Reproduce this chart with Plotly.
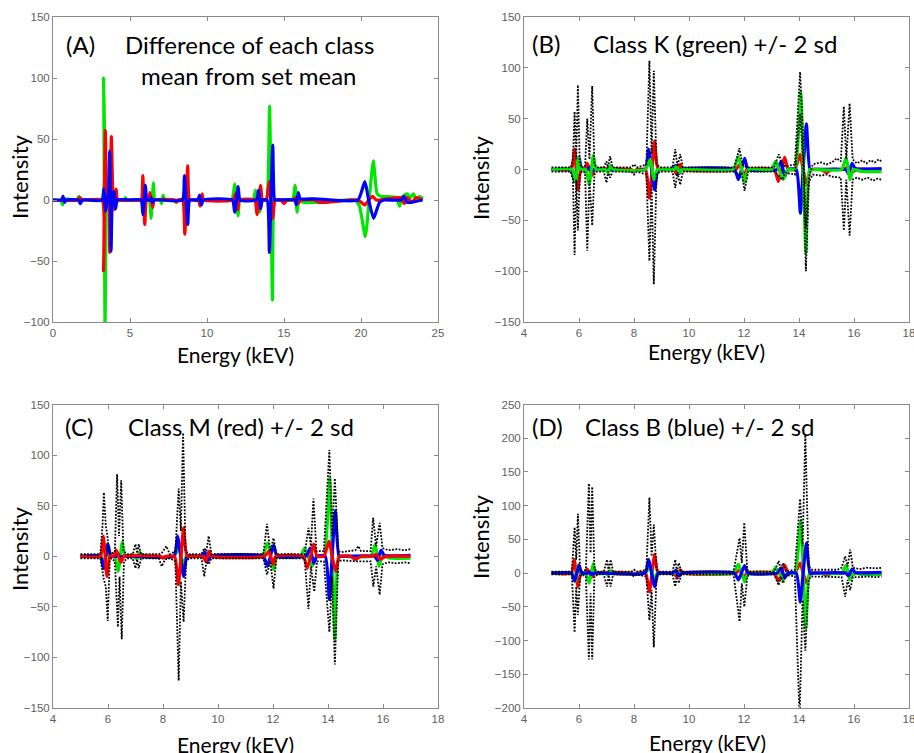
import plotly.graph_objects as go

W, H = 914, 753

# ---------------- class mean differences (shared by all panels) ----------------
green_x = [0.0, 0.5, 0.62, 0.72, 1.55, 1.68, 1.8, 1.95, 3.15, 3.28, 3.38, 3.48, 3.58, 3.7, 3.82, 3.95, 4.1, 4.25,
           4.6, 4.7, 4.8, 5.0, 5.75, 5.88, 5.97, 6.06, 6.25, 6.37, 6.52, 6.62, 6.95, 7.05, 7.15, 7.25, 8.4, 8.6,
           8.72, 8.85, 9.45, 9.55, 9.65, 9.75, 11.6, 11.8, 12.02, 12.15, 13.0, 13.15, 13.42, 13.58, 13.85, 14.06,
           14.16, 14.25, 14.38, 14.5, 15.55, 15.72, 15.85, 15.98, 16.3, 17.0, 17.3, 19.6, 19.9, 20.28, 20.55, 20.8,
           21.05, 21.3, 22.3, 22.5, 22.7, 23.0, 23.2, 23.4, 23.6, 23.8, 24.0]
green_y = [0, 0, -4, 1, 0, 3, -2, 0, 0, 100, -104, 5, -5, 6, -4, 3, -3, 0,
           0, 2, 0, 0, 0, -12, 12, 0, 0, -15, 14, 0, 0, -3, 4, 0, 0, 10,
           -10, 0, 0, 3, -3, 0, 0, 13, -13, 0, 0, 8, -10, 0, 0, 77,
           0, -82, 0, 0, 0, 12, -10, 0, -2, -2, -2, 0, -5, -30, 3, 32,
           5, 3, 2, -5, 3, 5, 2, 5, 0, 3, 1]

red_x = [0.0, 1.6, 1.75, 1.9, 3.18, 3.28, 3.4, 3.52, 3.6, 3.68, 3.79, 3.9, 4.0, 4.1, 4.2, 5.0, 5.72, 5.83, 5.96,
         6.07, 6.2, 6.3, 6.47, 6.58, 7.9, 8.0, 8.1, 8.42, 8.56, 8.75, 8.88, 9.45, 9.55, 9.68, 9.78, 11.7, 11.85,
         12.0, 12.1, 13.1, 13.25, 13.48, 13.6, 13.85, 14.04, 14.15, 14.28, 14.42, 14.8, 15.0, 15.2, 15.6, 15.75,
         15.9, 16.1, 17.0, 17.3, 19.8, 20.25, 20.5, 20.75, 21.0, 22.6, 22.8, 23.0, 23.3, 23.6, 24.0]
red_y = [0, 0, 2, 0, 0, -58, 57, 0, 0, -43, 52, 0, -8, 9, 0, 0, 0, 20, -20,
         0, 0, 6, -6, 0, 0, -2, 0, 0, -28, 28, 0, 0, -5, 5, 0, 0, 5,
         -8, 0, 0, -12, 12, 0, 0, 15, 0, -15, 0, 0, -3, 0, 0, 2,
         -3, 0, 0, -2, 0, -4, 0, 3, 0, 2, -3, 2, -2, 2, 0]

blue_x = [0.0, 0.55, 0.65, 0.75, 0.85, 1.65, 1.77, 1.9, 3.2, 3.3, 3.42, 3.52, 3.6, 3.68, 3.77, 3.86, 3.97, 4.07,
          4.17, 5.0, 5.72, 5.84, 6.0, 6.1, 6.3, 6.38, 6.45, 6.55, 8.4, 8.53, 8.75, 8.88, 9.4, 9.52, 9.64, 9.74,
          11.65, 11.8, 12.02, 12.15, 13.2, 13.35, 13.48, 13.6, 13.9, 14.05, 14.15, 14.27, 14.4, 14.55, 15.7,
          15.8, 15.93, 16.05, 17.0, 19.8, 20.25, 20.5, 20.82, 21.2, 21.5, 22.6, 22.8, 23.0, 24.0]
blue_y = [0, 0, 3, -2, 0, 0, -3, 0, 0, 9, -9, 0, 5, 40, -42, 3, 7, -7,
          0, 0, 0, -12, 12, 0, 0, 2, -2, 0, 0, 20, -20, 0, 0, 4, -4, 0,
          0, -10, 11, 0, 0, 8, -7, 0, 0, -43, 0, 45, 0, 0, 0,
          -4, 6, 1, 1, 0, 15, 0, -15, -2, 0, 0, 3, -2, 0]

# ---------------- +/- 2 sd lines ----------------
kU_x = [5.0, 5.7, 5.78, 5.84, 5.9, 5.96, 6.03, 6.1, 6.22, 6.3, 6.38, 6.48, 6.56, 6.65, 6.9, 7.0, 7.05, 7.13, 7.22,
        7.9, 8.0, 8.1, 8.45, 8.56, 8.64, 8.72, 8.82, 8.95, 9.4, 9.5, 9.58, 9.68, 9.78, 11.65, 11.83, 11.95, 12.05,
        12.15, 13.1, 13.26, 13.4, 13.5, 13.85, 14.04, 14.15, 14.25, 14.36, 14.5, 14.8, 15.0, 15.2, 15.37, 15.52,
        15.63, 15.72, 15.84, 15.95, 16.1, 16.3, 16.45, 16.6, 16.75, 16.9, 17.0]
kU_y = [2, 2, 10, 57, 10, 83, 5, 2, 3, 50, 10, 82, 5, 2, 2, 8, 2, 13, 2,
        2, 5, 2, 5, 107, 15, 97, 5, 2, 2, 20, 3, 15, 2, 2, 21, 5, 3,
        2, 2, 15, 5, 3, 5, 96, 30, -58, -8, 5, 7, 5, 7, 11, 8,
        62, 10, 65, 10, 6, 9, 6, 9, 7, 10, 8]
kL_x = [5.0, 5.7, 5.78, 5.84, 5.9, 5.96, 6.03, 6.1, 6.22, 6.3, 6.38, 6.48, 6.56, 6.65, 6.9, 7.0, 7.06, 7.13, 7.22,
        7.9, 8.0, 8.1, 8.45, 8.56, 8.64, 8.72, 8.82, 8.95, 9.4, 9.5, 9.58, 9.68, 9.78, 11.65, 11.83, 11.92, 12.02,
        12.15, 13.1, 13.26, 13.4, 13.5, 13.85, 14.04, 14.15, 14.25, 14.36, 14.5, 14.8, 15.0, 15.2, 15.52,
        15.63, 15.72, 15.84, 15.95, 16.1, 16.3, 16.5, 16.7, 16.85, 17.0]
kL_y = [-2, -2, -10, -84, -10, -60, -5, -2, -3, -80, -10, -55, -5, -2, -2, -13, -2, -8, -2,
        -2, -5, -2, -5, -90, -15, -113, -5, -2, -2, -18, -3, -15, -2, -2, -5, -4, -21,
        -2, -2, -6, -10, -3, -5, 55, 10, -100, -12, -5, -6, -5, -7, -8,
        -60, -10, -65, -10, -8, -10, -8, -11, -9, -10]

mU_x = [5.0, 5.72, 5.8, 5.85, 5.92, 5.97, 6.03, 6.1, 6.25, 6.33, 6.4, 6.48, 6.56, 6.7, 6.9, 7.0, 7.06, 7.12, 7.2,
        7.85, 7.95, 8.12, 8.25, 8.45, 8.57, 8.65, 8.73, 8.82, 8.95, 9.4, 9.5, 9.58, 9.66, 9.76, 11.65, 11.78,
        11.9, 12.02, 12.12, 13.15, 13.29, 13.38, 13.47, 13.58, 13.85, 14.05, 14.15, 14.25, 14.37, 14.5, 15.0,
        15.1, 15.2, 15.55, 15.64, 15.75, 15.88, 15.98, 16.2, 16.5, 16.8, 17.0]
mU_y = [2, 2, 30, 63, 30, 22, 5, 2, 5, 81, 20, 75, 5, 2, 2, 12, 3, 12, 2,
        2, 3, 10, 2, 5, 67, 25, 122, 5, 2, 2, 8, 5, 20, 2, 2, 32,
        5, 18, 2, 2, 28, 10, 57, 5, 5, 105, 20, 77, 5, 4, 6,
        10, 5, 5, 38, 10, 33, 8, 6, 7, 6, 7]
mL_x = [5.0, 5.72, 5.85, 5.92, 5.99, 6.06, 6.12, 6.25, 6.36, 6.42, 6.5, 6.58, 6.7, 6.9, 7.0, 7.06, 7.12, 7.2,
        7.85, 7.95, 8.08, 8.25, 8.45, 8.57, 8.65, 8.75, 8.84, 8.95, 9.4, 9.5, 9.58, 9.66, 9.76, 11.65, 11.78,
        11.9, 12.02, 12.12, 13.15, 13.29, 13.38, 13.5, 13.6, 13.85, 14.05, 14.15, 14.25, 14.37, 14.5, 15.0,
        15.55, 15.65, 15.75, 15.88, 15.98, 16.2, 16.5, 16.8, 17.0]
mL_y = [-2, -2, -23, -30, -64, -5, -2, -5, -70, -20, -82, -5, -2, -2, -12, -3, -12, -2,
        -2, -10, -3, -2, -5, -123, -25, -65, -5, -2, -2, -20, -5, -8, -2, -2, -18,
        -5, -32, -2, -2, -52, -10, -35, -5, -5, -75, -20, -107, -5, -4, -5,
        -5, -30, -10, -38, -8, -6, -7, -6, -7]

bU_x = [5.0, 5.74, 5.84, 5.9, 5.96, 6.04, 6.12, 6.25, 6.36, 6.42, 6.48, 6.56, 6.7, 6.9, 7.02, 7.08, 7.15, 7.24,
        7.9, 8.0, 8.1, 8.45, 8.56, 8.64, 8.72, 8.82, 8.95, 9.4, 9.5, 9.56, 9.63, 9.72, 11.62, 11.84, 11.92,
        12.01, 12.12, 12.2, 13.1, 13.26, 13.34, 13.42, 13.52, 13.85, 14.04, 14.13, 14.23, 14.35, 14.45, 15.4,
        15.55, 15.68, 15.77, 15.86, 15.96, 16.2, 16.5, 16.8, 17.0]
bU_y = [2, 2, 68, 20, 88, 5, 2, 5, 133, 30, 128, 5, 2, 2, 20, 3, 20, 2,
        2, 5, 2, 5, 112, 25, 72, 5, 2, 2, 20, 3, 15, 2, 2, 52, 15,
        75, 5, 2, 2, 18, 5, 15, 3, 5, 110, 40, 205, 10, 5, 5,
        8, 25, 10, 35, 8, 6, 8, 7, 8]
bL_x = [5.0, 5.74, 5.84, 5.9, 5.96, 6.04, 6.12, 6.25, 6.36, 6.42, 6.48, 6.56, 6.7, 6.9, 7.02, 7.08, 7.15, 7.24,
        7.9, 8.0, 8.1, 8.45, 8.56, 8.64, 8.72, 8.82, 8.95, 9.4, 9.5, 9.56, 9.63, 9.72, 11.62, 11.84, 11.92,
        12.01, 12.12, 12.2, 13.1, 13.26, 13.34, 13.42, 13.52, 13.85, 14.02, 14.13, 14.23, 14.35, 14.45, 15.4,
        15.55, 15.68, 15.77, 15.86, 15.96, 16.2, 16.5, 16.8, 17.0]
bL_y = [-2, -2, -88, -20, -62, -5, -2, -5, -128, -30, -128, -5, -2, -2, -20, -3, -20, -2,
        -2, -5, -2, -5, -70, -25, -110, -5, -2, -2, -20, -3, -15, -2, -2, -72, -15,
        -50, -5, -2, -2, -18, -5, -15, -3, -5, -215, -40, -115, -10, -5, -5,
        -6, -35, -10, -25, -6, -6, -5, -6, -5]

# ---------------- text ----------------
panel_tags = ["(A)", "(B)", "(C)", "(D)"]
panel_title_lines = [["Difference of each class", "mean from set mean"],
                     ["Class K (green) +/- 2 sd"],
                     ["Class M (red) +/- 2 sd"],
                     ["Class B (blue) +/- 2 sd"]]
x_title = "Energy (kEV)"
y_title = "Intensity"

COL = {"green": "#00E600", "red": "#FF0000", "blue": "#0000FF"}
SER = {"green": (green_x, green_y), "red": (red_x, red_y), "blue": (blue_x, blue_y)}


def clip(xs, ys, lo, hi):
    pts = [(a, b) for a, b in zip(xs, ys) if lo <= a <= hi]
    return [p[0] for p in pts], [p[1] for p in pts]


fig = go.Figure()


def add_color(name, ax, lo=None, hi=None):
    xs, ys = SER[name]
    if lo is not None:
        xs, ys = clip(xs, ys, lo, hi)
    fig.add_trace(go.Scatter(x=xs, y=ys, mode="lines",
                             line=dict(color=COL[name], width=3.2, shape="spline", smoothing=0.5),
                             xaxis="x" + ax, yaxis="y" + ax, showlegend=False, hoverinfo="skip"))


def add_black(xs, ys, ax):
    fig.add_trace(go.Scatter(x=xs, y=ys, mode="lines",
                             line=dict(color="black", width=1.8, dash="1.8px,1.5px"),
                             xaxis="x" + ax, yaxis="y" + ax, showlegend=False, hoverinfo="skip"))


# A
for n in ["green", "red", "blue"]:
    add_color(n, "")
# B
for n in ["red", "blue", "green"]:
    add_color(n, "2", 5, 17)
add_black(kU_x, kU_y, "2")
add_black(kL_x, kL_y, "2")
# C
for n in ["green", "blue", "red"]:
    add_color(n, "3", 5, 17)
add_black(mU_x, mU_y, "3")
add_black(mL_x, mL_y, "3")
# D
for n in ["red", "green", "blue"]:
    add_color(n, "4", 5, 17)
add_black(bU_x, bU_y, "4")
add_black(bL_x, bL_y, "4")


def px(x):
    return x / W


def py(y):
    return 1 - y / H


axis_common = dict(showgrid=False, zeroline=False, showline=True, mirror="ticks", linecolor="#8a8a8a",
                   linewidth=1, ticks="inside", ticklen=4, tickcolor="#8a8a8a", automargin=False,
                   tickfont=dict(family="Liberation Sans, Arial", size=11.5, color="#5e5e5e"),
                   ticklabeloverflow="allow")

domA_x = [px(53), px(438)]
domB_x = [px(524), px(909)]
dom_top = [py(322), py(17)]
dom_bot = [py(708), py(404.5)]

layout = dict(template="none", width=W, height=H, margin=dict(l=0, r=0, t=0, b=0, autoexpand=False),
              paper_bgcolor="white", plot_bgcolor="white", showlegend=False)
layout["xaxis"] = dict(axis_common, domain=domA_x, range=[0, 25], dtick=5, anchor="y")
layout["yaxis"] = dict(axis_common, domain=dom_top, range=[-100, 150], dtick=50, anchor="x")
layout["xaxis2"] = dict(axis_common, domain=domB_x, range=[4, 18], dtick=2, anchor="y2")
layout["yaxis2"] = dict(axis_common, domain=dom_top, range=[-150, 150], dtick=50, anchor="x2")
layout["xaxis3"] = dict(axis_common, domain=domA_x, range=[4, 18], dtick=2, anchor="y3")
layout["yaxis3"] = dict(axis_common, domain=dom_bot, range=[-150, 150], dtick=50, anchor="x3")
layout["xaxis4"] = dict(axis_common, domain=domB_x, range=[4, 18], dtick=2, anchor="y4")
layout["yaxis4"] = dict(axis_common, domain=dom_bot, range=[-200, 250], dtick=50, anchor="x4")
fig.update_layout(**layout)

TF = "Lato, Open Sans, sans-serif"
ann = []


def add_text(t, x, y, size, angle=0):
    ann.append(dict(text=t, x=px(x), y=py(y), xref="paper", yref="paper", showarrow=False,
                    textangle=angle, xanchor="center", yanchor="middle",
                    font=dict(family=TF, size=size, color="black")))


tag_pos = [(80, 45), (546, 44), (79, 426), (547, 426)]
title_pos = [[(249, 45), (249, 75)], [(715, 44)], [(241, 426)], [(700, 426)]]
for t, (x, y) in zip(panel_tags, tag_pos):
    add_text(t, x, y, 24)
for lines, poss in zip(panel_title_lines, title_pos):
    for t, (x, y) in zip(lines, poss):
        add_text(t, x, y, 24)
for (x, y) in [(235, 354), (706, 351), (235, 744), (707, 742)]:
    add_text(x_title, x, y, 21)
for (x, y) in [(19, 177), (480, 177), (19, 549), (480, 536)]:
    add_text(y_title, x, y, 22, -90)
fig.update_layout(annotations=ann)

fig.write_html("out.html", config={"displayModeBar": False},
               post_script="document.body.style.margin='0';document.body.style.padding='0';"
                           "document.body.style.overflow='hidden';")
